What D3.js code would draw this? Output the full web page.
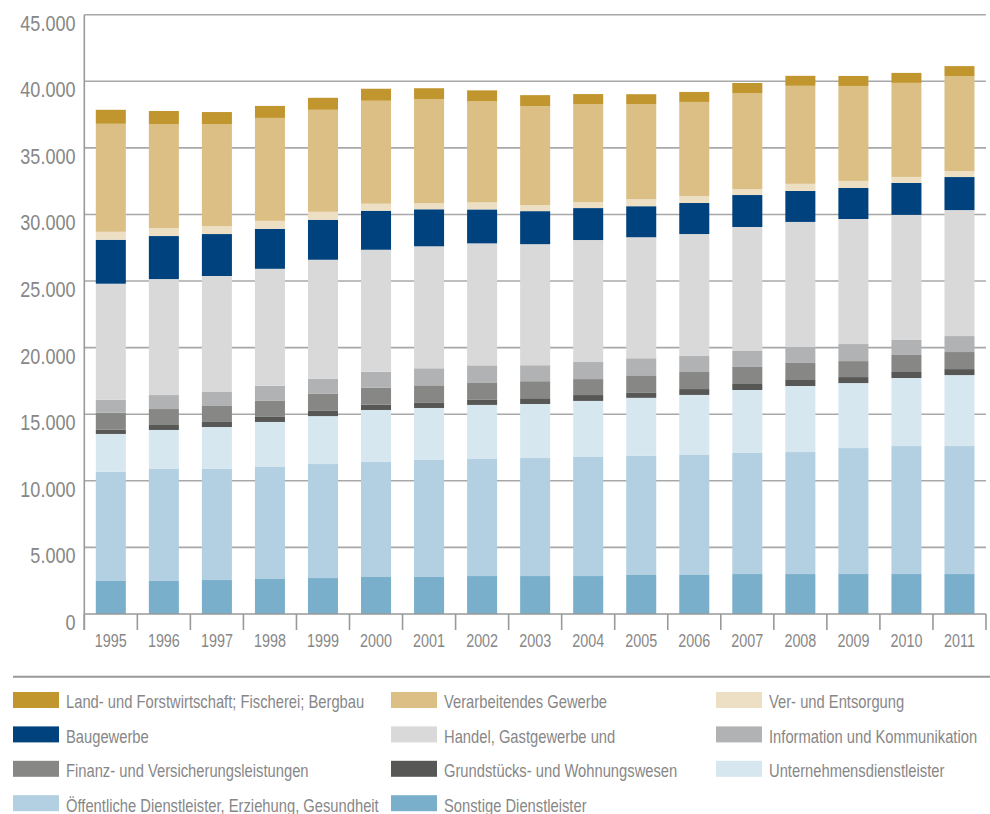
<!DOCTYPE html>
<html>
<head>
<meta charset="utf-8">
<script src="https://cdn.jsdelivr.net/npm/d3@7"></script>
<style>
  body { margin: 0; background: #fff; }
  text { font-family: "Liberation Sans", Arial, sans-serif; fill: #878787; }
</style>
</head>
<body>
<div id="chart"></div>
<script>
var width = 990
var height = 814
var narrow = 0.82   // squeeze Liberation Sans to look like a narrow face

// Erwerbstätige in 1.000, nach Wirtschaftsbereichen
var years = ["1995","1996","1997","1998","1999","2000","2001","2002","2003","2004","2005","2006","2007","2008","2009","2010","2011"]

var sonstige     = [2480,2480,2550,2630,2700,2780,2780,2850,2850,2850,2930,2930,3000,3000,3000,3000,3000]
var oeffentlich  = [8190,8410,8340,8410,8560,8640,8790,8790,8860,8940,8940,9010,9090,9160,9460,9610,9610]
var unternehmen  = [2850,2930,3150,3380,3600,3900,3900,4060,4060,4210,4360,4510,4730,4960,4880,5110,5330]
var grundstueck  = [310,370,380,380,390,390,420,410,430,440,410,440,450,450,450,450,450]
var finanz       = [1280,1200,1200,1200,1280,1280,1280,1280,1280,1200,1280,1280,1280,1280,1200,1280,1280]
var information  = [980,1050,1050,1130,1130,1200,1280,1280,1200,1280,1280,1200,1200,1200,1280,1130,1200]
var handel       = [8710,8710,8710,8790,8940,9160,9160,9160,9090,9160,9090,9160,9310,9390,9390,9390,9460]
var bau          = [3300,3230,3150,3000,3000,2930,2780,2550,2480,2400,2330,2330,2400,2330,2330,2400,2480]
var versorgung   = [600,600,600,600,600,530,450,530,450,450,530,530,450,530,530,450,450]
var verarbeitend = [8110,7810,7660,7730,7660,7730,7810,7580,7430,7360,7130,7060,7210,7360,7130,7060,7130]
var land         = [1050,980,900,900,900,900,830,830,830,750,750,750,750,750,750,750,750]

var yTicks = [0,5000,10000,15000,20000,25000,30000,35000,40000,45000]

// legend order (row by row), stack goes the other way round
var series = [
  { name: "Land- und Forstwirtschaft; Fischerei; Bergbau", values: land, color: "#c1962f" },
  { name: "Verarbeitendes Gewerbe", values: verarbeitend, color: "#dbbf85" },
  { name: "Ver- und Entsorgung", values: versorgung, color: "#ecdfc4" },
  { name: "Baugewerbe", values: bau, color: "#00427d" },
  { name: "Handel, Gastgewerbe und", values: handel, color: "#d9d9d9" },
  { name: "Information und Kommunikation", values: information, color: "#b1b2b3" },
  { name: "Finanz- und Versicherungsleistungen", values: finanz, color: "#878786" },
  { name: "Grundstücks- und Wohnungswesen", values: grundstueck, color: "#575756" },
  { name: "Unternehmensdienstleister", values: unternehmen, color: "#d7e7f0" },
  { name: "Öffentliche Dienstleister, Erziehung, Gesundheit", values: oeffentlich, color: "#b2d0e1" },
  { name: "Sonstige Dienstleister", values: sonstige, color: "#7aafcb" }
]

var rows = years.map(function(y, i) {
  var r = { year: y }
  series.forEach(function(s) { r[s.name] = s.values[i] })
  return r
})

var stackKeys = series.map(function(s) { return s.name }).reverse()
var colorOf = {}
series.forEach(function(s) { colorOf[s.name] = s.color })

var stacked = d3.stack().keys(stackKeys)(rows)

var svg = d3.select("#chart")
  .append("svg")
    .attr("width", width)
    .attr("height", height)

var x = d3.scaleBand()
  .domain(years)
  .range([84.3, 986])

var y = d3.scaleLinear()
  .domain([0, 45000])
  .range([614, 14.7])

var barW = x.bandwidth() * 0.566

function place(px, py) {
  return "translate(" + px + "," + py + ") scale(" + narrow + ",1)"
}

// gridlines
svg.append("g")
  .selectAll("line")
  .data(yTicks.filter(function(d) { return d > 0 }))
  .enter()
  .append("line")
    .attr("x1", 84.3)
    .attr("x2", 986)
    .attr("y1", function(d) { return y(d) })
    .attr("y2", function(d) { return y(d) })
    .attr("stroke", "#a8a8a8")
    .attr("stroke-width", 1.6)

// y labels
svg.append("g")
  .selectAll("text")
  .data(yTicks)
  .enter()
  .append("text")
    .attr("transform", function(d) { return place(75.5, y(d) + 16) })
    .attr("text-anchor", "end")
    .style("font-size", "22px")
    .text(function(d) { return d === 0 ? "0" : d3.format(",")(d).replace(/,/g, ".") })

// bars
svg.append("g")
  .selectAll("g")
  .data(stacked)
  .enter()
  .append("g")
    .attr("fill", function(d) { return colorOf[d.key] })
  .selectAll("rect")
  .data(function(d) { return d })
  .enter()
  .append("rect")
    .attr("x", function(d) { return x(d.data.year) + (x.bandwidth() - barW) / 2 })
    .attr("width", barW)
    .attr("y", function(d) { return y(d[1]) })
    .attr("height", function(d) { return y(d[0]) - y(d[1]) })

// axes lines
svg.append("line")
  .attr("x1", 84.3).attr("x2", 84.3)
  .attr("y1", y(45000)).attr("y2", 630)
  .attr("stroke", "#999").attr("stroke-width", 1.6)

svg.append("line")
  .attr("x1", 84.3).attr("x2", 986)
  .attr("y1", y(0)).attr("y2", y(0))
  .attr("stroke", "#999").attr("stroke-width", 1.6)

// ticks between years
var tickPos = years.map(function(d) { return x(d) }).concat([x(years[years.length - 1]) + x.bandwidth()])
svg.append("g")
  .selectAll("line")
  .data(tickPos)
  .enter()
  .append("line")
    .attr("x1", function(d) { return d })
    .attr("x2", function(d) { return d })
    .attr("y1", y(0))
    .attr("y2", 630)
    .attr("stroke", "#999")
    .attr("stroke-width", 1.6)

svg.append("g")
  .selectAll("text")
  .data(years)
  .enter()
  .append("text")
    .attr("transform", function(d) { return place(x(d) + x.bandwidth() / 2, 646.5) })
    .attr("text-anchor", "middle")
    .style("font-size", "17.5px")
    .text(function(d) { return d })

// legend
svg.append("line")
  .attr("x1", 13).attr("x2", 990)
  .attr("y1", 676.7).attr("y2", 676.7)
  .attr("stroke", "#999").attr("stroke-width", 2)

var colX = [13, 391, 716]
var legend = svg.append("g")
  .selectAll("g")
  .data(series)
  .enter()
  .append("g")
    .attr("transform", function(d, i) {
      return "translate(" + colX[i % 3] + "," + (692 + Math.floor(i / 3) * 34.4) + ")"
    })

legend.append("rect")
  .attr("width", 46)
  .attr("height", 16)
  .attr("fill", function(d) { return d.color })

legend.append("text")
  .attr("transform", place(53, 16.3))
  .style("font-size", "18px")
  .text(function(d) { return d.name })
</script>
</body>
</html>
